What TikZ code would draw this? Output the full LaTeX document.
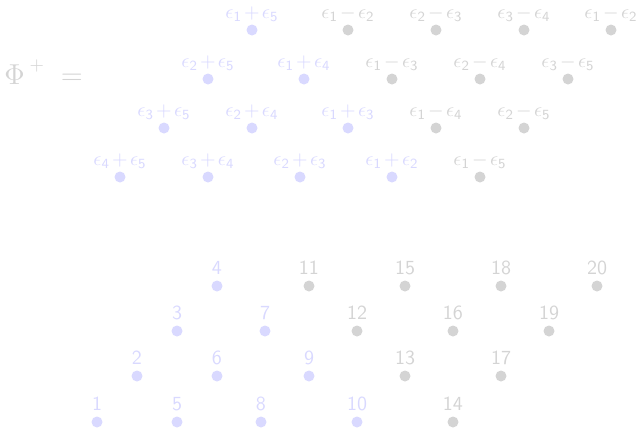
\documentclass[tikz,border=0pt]{standalone}
\usetikzlibrary{positioning}
\colorlet{colPos}{blue!15}
\colorlet{colNeg}{black!17}
\tikzset{
  punto/.style={circle, inner sep=0pt, minimum size=5.5pt},
  etiqueta/.style={inner sep=1pt, font=\sffamily, text depth=0pt, label distance=1.4pt},
  raizPos/.style={punto, fill=colPos, label={[etiqueta, text=colPos]above:#1}},
  raizNeg/.style={punto, fill=colNeg, label={[etiqueta, text=colNeg]above:#1}},
}
\newcommand{\raiz}[3]{$\epsilon_{\mathsf{#1}}\mkern2mu{#2}\mkern2mu\epsilon_{\mathsf{#3}}$}

\begin{document}
\begin{tikzpicture}[x=0.5pt, y=-0.5pt]
    \useasboundingbox (0,0) rectangle (639,430);
    \node[anchor=base west, inner sep=0pt, text=colNeg, font=\fontsize{13.5pt}{15pt}\selectfont]
      (phi) at (4,84) {${\Phi\mkern3mu}^{+}\mkern5mu=$};

    % raices positivas
    \node[raizPos={\raiz{1}{+}{5}}] (p15) at (252,30) {};
    \node[raizNeg={\raiz{1}{-}{2}}] (m12) at (348,30) {};
    \node[raizNeg={\raiz{2}{-}{3}}] (m23) at (436,30) {};
    \node[raizNeg={\raiz{3}{-}{4}}] (m34) at (524,30) {};
    \node[raizNeg={\raiz{1}{-}{2}}] (m12b) at (611,30) {};

    \node[raizPos={\raiz{2}{+}{5}}] (p25) at (208,79) {};
    \node[raizPos={\raiz{1}{+}{4}}] (p14) at (304,79) {};
    \node[raizNeg={\raiz{1}{-}{3}}] (m13) at (392,79) {};
    \node[raizNeg={\raiz{2}{-}{4}}] (m24) at (480,79) {};
    \node[raizNeg={\raiz{3}{-}{5}}] (m35) at (568,79) {};

    \node[raizPos={\raiz{3}{+}{5}}] (p35) at (164,128) {};
    \node[raizPos={\raiz{2}{+}{4}}] (p24) at (252,128) {};
    \node[raizPos={\raiz{1}{+}{3}}] (p13) at (348,128) {};
    \node[raizNeg={\raiz{1}{-}{4}}] (m14) at (436,128) {};
    \node[raizNeg={\raiz{2}{-}{5}}] (m25) at (524,128) {};

    \node[raizPos={\raiz{4}{+}{5}}] (p45) at (120,177) {};
    \node[raizPos={\raiz{3}{+}{4}}] (p34) at (208,177) {};
    \node[raizPos={\raiz{2}{+}{3}}] (p23) at (300,177) {};
    \node[raizPos={\raiz{1}{+}{2}}] (p12) at (392,177) {};
    \node[raizNeg={\raiz{1}{-}{5}}] (m15) at (480,177) {};

    % numeracion
    \node[raizPos=4]  (n4)  at (217,286) {};
    \node[raizNeg=11] (n11) at (309,286) {};
    \node[raizNeg=15] (n15) at (405,286) {};
    \node[raizNeg=18] (n18) at (501,286) {};
    \node[raizNeg=20] (n20) at (597,286) {};

    \node[raizPos=3]  (n3)  at (177,331) {};
    \node[raizPos=7]  (n7)  at (265,331) {};
    \node[raizNeg=12] (n12) at (357,331) {};
    \node[raizNeg=16] (n16) at (453,331) {};
    \node[raizNeg=19] (n19) at (549,331) {};

    \node[raizPos=2]  (n2)  at (137,376) {};
    \node[raizPos=6]  (n6)  at (217,376) {};
    \node[raizPos=9]  (n9)  at (309,376) {};
    \node[raizNeg=13] (n13) at (405,376) {};
    \node[raizNeg=17] (n17) at (501,376) {};

    \node[raizPos=1]  (n1)  at (97,422) {};
    \node[raizPos=5]  (n5)  at (177,422) {};
    \node[raizPos=8]  (n8)  at (261,422) {};
    \node[raizPos=10] (n10) at (357,422) {};
    \node[raizNeg=14] (n14) at (453,422) {};
\end{tikzpicture}
\end{document}
